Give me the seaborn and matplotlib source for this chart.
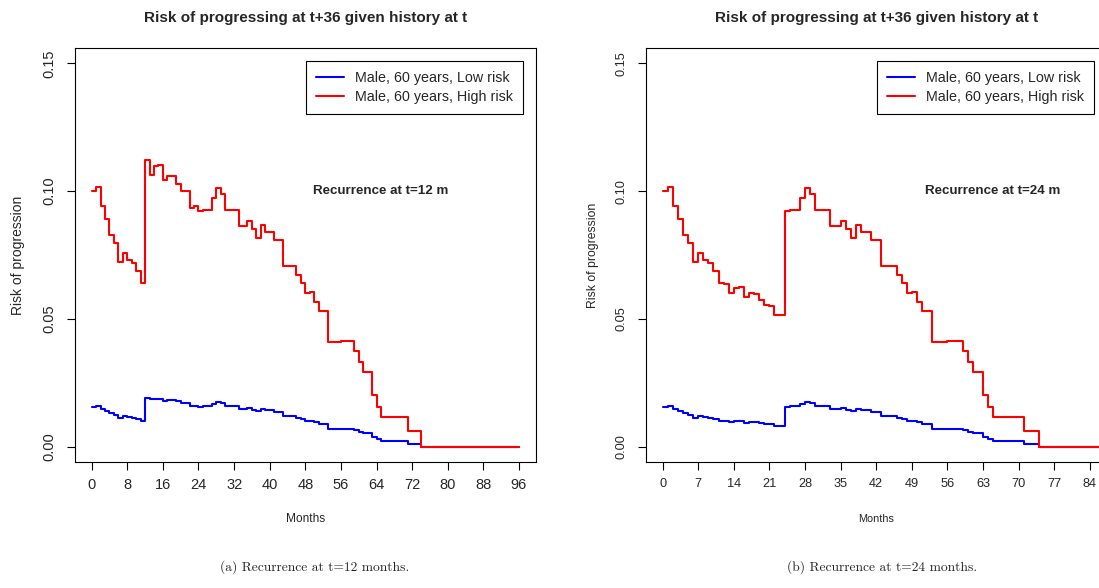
import matplotlib
matplotlib.use("Agg")
import matplotlib.pyplot as plt
import seaborn as sns
import pandas as pd

# step change points (month, risk)
# months 0-11 are the same in both panels
early_t = [0, 1, 2, 3, 4, 5, 6, 7, 8, 9, 10, 11]
early_high = [0.1000, 0.1015, 0.0940, 0.0892, 0.0830, 0.0796, 0.0722, 0.0756, 0.0730, 0.0717, 0.0687, 0.0639]
early_low = [0.0154, 0.0158, 0.0147, 0.0138, 0.0130, 0.0125, 0.0112, 0.0119, 0.0115, 0.0112, 0.0107, 0.0100]

# recurrence at 12 months
mid12_t = [12, 13, 14, 15, 16, 17, 19, 20, 22, 23]
mid12_high = [0.1120, 0.1064, 0.1097, 0.1103, 0.1042, 0.1058, 0.1029, 0.0999, 0.0934, 0.0940]
mid12_low = [0.0191, 0.0185, 0.0187, 0.0188, 0.0178, 0.0181, 0.0177, 0.0170, 0.0160, 0.0161]

# recurrence at 24 months (no jump yet between 12 and 23)
mid24_t = [12, 13, 14, 15, 16, 17, 18, 19, 20, 21, 22]
mid24_high = [0.0636, 0.0601, 0.0619, 0.0624, 0.0584, 0.0600, 0.0597, 0.0575, 0.0554, 0.0550, 0.0514]
mid24_low = [0.0099, 0.0095, 0.0099, 0.0099, 0.0093, 0.0096, 0.0095, 0.0093, 0.0090, 0.0088, 0.0081]

# months 24+ are the same in both panels
late_t = [24, 25, 27, 28, 29, 30, 33, 35, 36, 37, 38, 39, 41, 43, 46, 47, 48, 49, 50,
          51, 53, 56, 59, 60, 61, 63, 64, 65, 71, 74, 96]
late_high = [0.0921, 0.0928, 0.0973, 0.1012, 0.0990, 0.0928, 0.0865, 0.0882, 0.0852, 0.0817,
             0.0868, 0.0839, 0.0808, 0.0706, 0.0670, 0.0639, 0.0602, 0.0606, 0.0567, 0.0531,
             0.0411, 0.0414, 0.0375, 0.0333, 0.0293, 0.0203, 0.0156, 0.0115, 0.0062, 0.0, 0.0]
late_low = [0.0156, 0.0159, 0.0165, 0.0173, 0.0169, 0.0160, 0.0147, 0.0151, 0.0145, 0.0138,
            0.0149, 0.0142, 0.0137, 0.0120, 0.0113, 0.0107, 0.0100, 0.0101, 0.0095, 0.0090,
            0.0069, 0.0069, 0.0066, 0.0059, 0.0052, 0.0038, 0.0029, 0.0022, 0.0012, 0.0, 0.0]

labels = ["Male, 60 years, Low risk", "Male, 60 years, High risk"]
title = "Risk of progressing at t+36 given history at t"
xticks_a = list(range(0, 97, 8))
xticks_b = list(range(0, 85, 7))
yticks = [0.00, 0.05, 0.10, 0.15]

sns.set_theme(style="ticks")
plt.rcParams["font.family"] = ["Liberation Sans", "DejaVu Sans"]

fig = plt.figure(figsize=(10.99, 5.88), dpi=100)
W, H = 1099, 588


def make_panel(left_px, t, low, high, xlim, xticks, note, tick_fs, xlab_fs, ylab_fs, ylab_x):
    ax = fig.add_axes([left_px / W, (H - 462) / H, 461.4 / W, 414 / H])
    df = pd.DataFrame({"t": t, "low": low, "high": high})
    sns.lineplot(data=df, x="t", y="low", ax=ax, color="blue", lw=1.5,
                 drawstyle="steps-post", sort=False, label=labels[0])
    sns.lineplot(data=df, x="t", y="high", ax=ax, color="red", lw=1.5,
                 drawstyle="steps-post", sort=False, label=labels[1])
    ax.set_xlim(*xlim)
    ax.set_ylim(-0.006, 0.156)
    ax.set_xticks(xticks)
    ax.set_xticklabels([str(v) for v in xticks], fontsize=tick_fs)
    ax.set_yticks(yticks)
    ax.set_yticklabels(["%.2f" % v for v in yticks], rotation=90, va="center", fontsize=tick_fs)
    ax.tick_params(direction="out", length=5.8, width=0.8, color="black", pad=6)
    ax.tick_params(axis="y", pad=7)
    for s in ax.spines.values():
        s.set_color("black")
        s.set_linewidth(0.8)
    ax.set_xlabel("Months", fontsize=xlab_fs)
    ax.set_ylabel("Risk of progression", fontsize=ylab_fs)
    ax.xaxis.set_label_coords(0.5, (462 - 519) / 414)
    ax.xaxis.label.set_va("center")
    ax.yaxis.set_label_coords((ylab_x - left_px) / 461.4, 0.5)
    ax.yaxis.label.set_va("center")
    ax.set_title(title, y=(462 - 18) / 414, pad=0, va="center", fontsize=11, fontweight="bold")
    ax.text(65, 0.10, note, ha="center", va="center", fontsize=9.6, fontweight="bold")
    ax.legend(loc="upper right", bbox_to_anchor=(0.988, 0.985), fontsize=10.3,
              frameon=True, fancybox=False, edgecolor="black", framealpha=1,
              handlelength=1.95, handletextpad=0.8, labelspacing=0.3, borderpad=0.7)
    ax.get_legend().get_frame().set_linewidth(0.8)
    ax.grid(False)
    return ax


t_a = early_t + mid12_t + late_t
ax1 = make_panel(74.6, t_a, early_low + mid12_low + late_low, early_high + mid12_high + late_high,
                 (-3.84, 99.84), xticks_a, "Recurrence at t=12 m", 10.5, 8.6, 10.0, 18)

t_b = early_t + mid24_t + late_t
ax2 = make_panel(645.5, t_b, early_low + mid24_low + late_low, early_high + mid24_high + late_high,
                 (-3.36, 87.36), xticks_b, "Recurrence at t=24 m", 9.2, 7.8, 8.8, 593)

fig.text(315 / W, 1 - 567 / H, "(a) Recurrence at t=12 months.", ha="center", va="center",
         fontsize=9.7, family="cmr10")
fig.text(882 / W, 1 - 567 / H, "(b) Recurrence at t=24 months.", ha="center", va="center",
         fontsize=9.7, family="cmr10")

fig.savefig("out.png", dpi=100)
